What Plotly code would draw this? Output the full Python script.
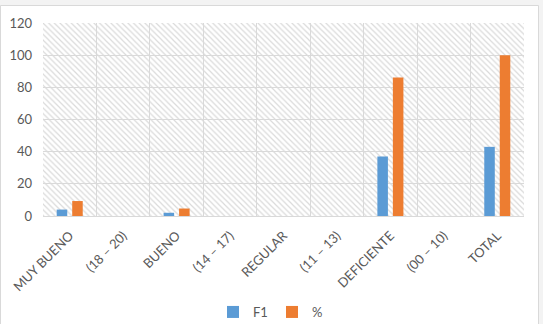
import plotly.graph_objects as go

categories = ["MUY BUENO", "(18 – 20)", "BUENO", "(14 – 17)", "REGULAR",
              "(11 – 13)", "DEFICIENTE", "(00 – 10)", "TOTAL"]
f1_values = [4, 0, 2, 0, 0, 0, 37, 0, 43]
pct_values = [9.3, 0, 4.65, 0, 0, 0, 86.05, 0, 100]
y_ticks = [0, 20, 40, 60, 80, 100, 120]
Y_MAX = 120

W, H = 543, 324
ML, MR, MT, MB = 43, 19, 23, 108
PW, PH = W - ML - MR, H - MT - MB

def px_x(p):
    return (p - ML) / PW

def px_y(p):
    return (H - MB - p) / PH

GRID = "#d9d9d9"
TXT = "#595959"
FONT = "Lato, 'Open Sans', sans-serif"

fig = go.Figure()

# hatched plot-area background (decoration, spans the full axis range)
fig.add_trace(go.Bar(
    x=[0.5], y=[Y_MAX], width=[1], xaxis="x", yaxis="y",
    marker=dict(color="#dadada", line=dict(width=0),
                pattern=dict(shape="\\", size=4, solidity=0.3, fillmode="replace")),
    showlegend=False, hoverinfo="skip",
))

fig.add_trace(go.Bar(name="F1", x=categories, y=f1_values, xaxis="x2", yaxis="y",
                     marker=dict(color="#5B9BD5", line=dict(width=0))))
fig.add_trace(go.Bar(name="%", x=categories, y=pct_values, xaxis="x2", yaxis="y",
                     marker=dict(color="#ED7D31", line=dict(width=0))))

fig.update_layout(
    width=W, height=H,
    margin=dict(l=ML, r=MR, t=MT, b=MB, pad=0, autoexpand=False),
    paper_bgcolor="#f3f3f3",
    plot_bgcolor="rgba(0,0,0,0)",
    barmode="group", bargap=0.42, bargroupgap=0.32,
    font=dict(family=FONT, size=13, color=TXT),
    xaxis=dict(range=[0, 1], visible=False, fixedrange=True, automargin=False),
    xaxis2=dict(overlaying="x", anchor="y", side="bottom", type="category",
                range=[-0.5, len(categories) - 0.5], automargin=False,
                tickson="boundaries", showgrid=True, gridcolor=GRID, gridwidth=1,
                showline=True, linecolor=GRID, linewidth=1,
                ticks="", tickangle=-45, ticklabelstandoff=6,
                tickfont=dict(size=13, color=TXT)),
    yaxis=dict(range=[0, Y_MAX], tickvals=y_ticks, showgrid=True, gridcolor=GRID,
               gridwidth=1, zeroline=False, showline=False, ticks="", automargin=False,
               ticklabelstandoff=10, tickfont=dict(size=13, color=TXT)),
    legend=dict(orientation="h", x=px_x(272), xanchor="center", y=px_y(297), yanchor="top",
                font=dict(size=13, color=TXT), itemwidth=30, itemsizing="constant",
                entrywidth=14, entrywidthmode="pixels",
                bgcolor="rgba(0,0,0,0)", traceorder="normal"),
    shapes=[dict(type="rect", xref="paper", yref="paper", layer="below",
                 x0=px_x(0.5), x1=px_x(538.5), y0=px_y(5.5), y1=px_y(345),
                 fillcolor="white", line=dict(color=GRID, width=1))],
)

fig.write_html("out.html")
